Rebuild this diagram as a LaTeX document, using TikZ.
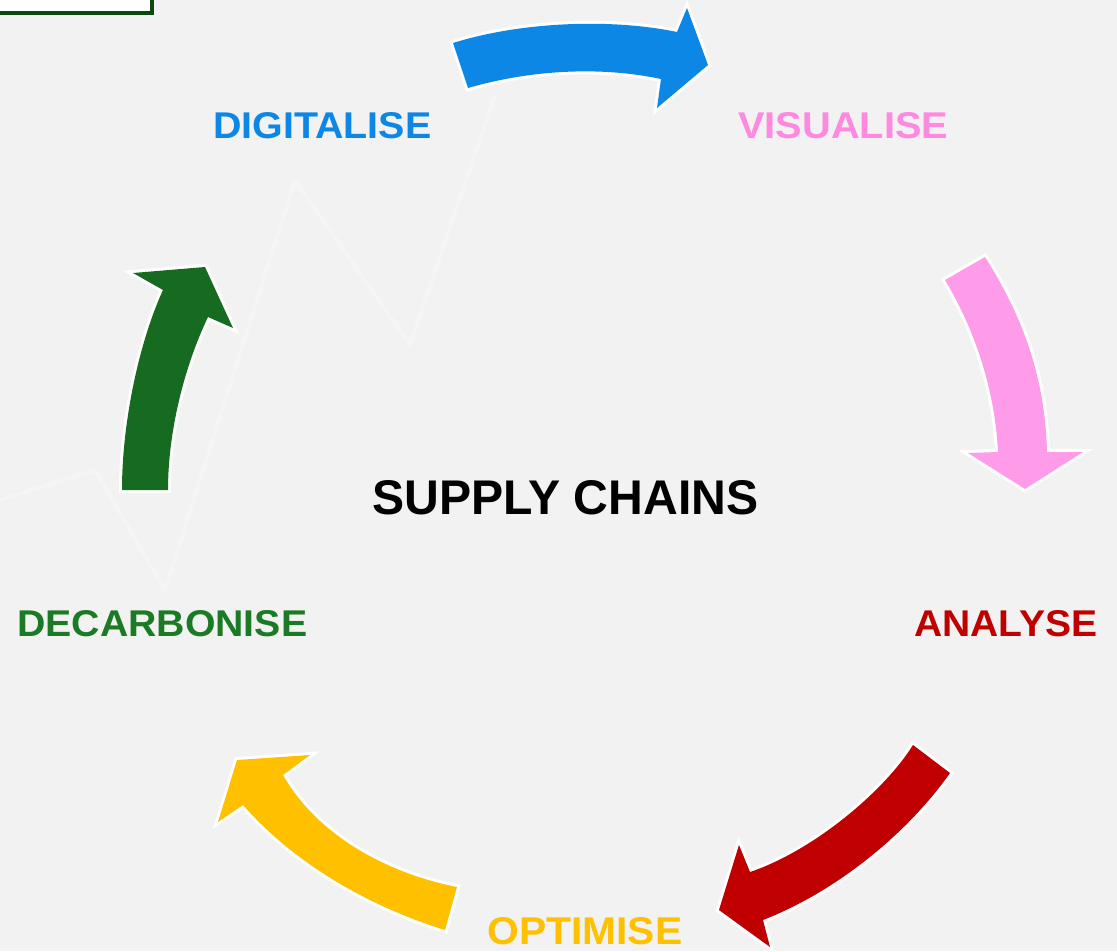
\documentclass[tikz,border=0pt]{standalone}
\usepackage{fontspec}
\setmainfont{Liberation Sans}
\usepackage{graphicx}
\definecolor{bgc}{HTML}{F2F2F2}
\definecolor{bgline}{HTML}{F5F5F4}
\definecolor{boxgreen}{HTML}{0B4A0E}
\definecolor{cblue}{HTML}{0C87E6}
\definecolor{cpink}{HTML}{FF9CE9}
\definecolor{cpinktxt}{HTML}{FF88E0}
\definecolor{cred}{HTML}{C00000}
\definecolor{cyellow}{HTML}{FFC000}
\definecolor{cgreen}{HTML}{176B21}
\definecolor{cgreentxt}{HTML}{1B7A24}
\newcommand\fitlabel[3]{\resizebox{#1pt}{#2pt}{\bfseries #3}}
\begin{document}
\begin{tikzpicture}[x=0.75pt,y=-0.75pt,
  lbl/.style={inner sep=0pt, anchor=south west},
  cyc/.style={line join=miter, preaction={draw=white, line width=4.5pt}}]
\useasboundingbox (0,0) rectangle (1117,951);
\fill[bgc] (0,0) rectangle (1117,951);
% faint background chart line
\draw[bgline, line width=3pt, line join=round] (0,500) -- (95,470) -- (165,590) -- (295,180) -- (410,345) -- (495,95);
% corner box
\draw[boxgreen, line width=3pt, fill=white] (-10,-10) rectangle (152,13);
% labels
\node[lbl, text=cblue] (dig) at (213,139) {\fitlabel{163.5}{19.5}{DIGITALISE}};
\node[lbl, text=cpinktxt] (vis) at (738,139) {\fitlabel{157.5}{19.5}{VISUALISE}};
\node[lbl, text=cred] (ana) at (914,637) {\fitlabel{137.25}{19.5}{ANALYSE}};
\node[lbl, text=cyellow] (opt) at (487,945) {\fitlabel{146.25}{20.25}{OPTIMISE}};
\node[lbl, text=cgreentxt] (dec) at (17,637) {\fitlabel{217.5}{19.5}{DECARBONISE}};
\node[lbl, text=black] (sc) at (372,515) {\fitlabel{289.5}{25.5}{SUPPLY CHAINS}};
% blue arrow (digitalise -> visualise)
\fill[cyc, cblue] (453,43) .. controls (520,22) and (610,18) .. (677,32)
  -- (687,8) -- (708,65) -- (657,108) -- (661,79)
  .. controls (600,66) and (530,70) .. (468,88) -- cycle;
% pink arrow (visualise -> analyse)
\fill[cyc, cpink] (985,257) .. controls (1025,320) and (1045,380) .. (1047,452)
  -- (1083,452) -- (1025,489) -- (968,453) -- (998,452)
  .. controls (995,390) and (975,330) .. (945,280) -- cycle;
% red arrow (analyse -> optimise)
\fill[cyc, cred] (950,773) .. controls (910,830) and (840,890) .. (763,920)
  -- (770,947) -- (719,910) -- (739,845) -- (750,872)
  .. controls (815,850) and (885,790) .. (913,745) -- cycle;
% yellow arrow (optimise -> decarbonise)
\fill[cyc, cyellow] (445,930) .. controls (380,910) and (300,870) .. (243,805)
  -- (218,822) -- (237,760) -- (310,755) -- (283,775)
  .. controls (320,840) and (395,875) .. (457,887) -- cycle;
% green arrow (decarbonise -> digitalise)
\fill[cyc, cgreen] (122,490) .. controls (122,420) and (140,340) .. (163,290)
  -- (133,273) -- (205,267) -- (233,328) -- (208,317)
  .. controls (185,365) and (168,430) .. (168,490) -- cycle;
\end{tikzpicture}
\end{document}
